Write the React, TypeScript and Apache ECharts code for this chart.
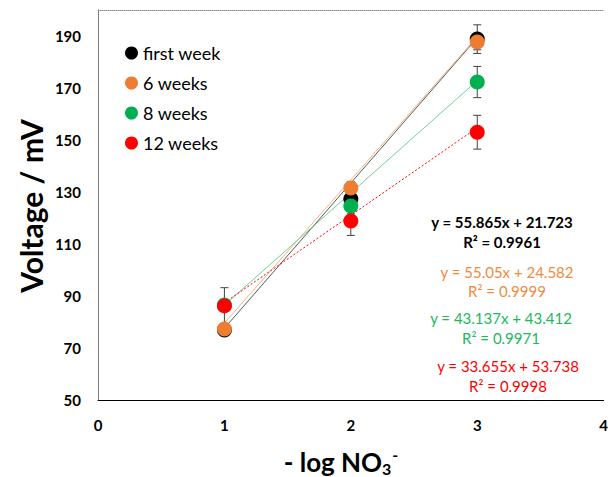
import React, { useEffect, useRef } from "react";
import * as echarts from "echarts";

const seriesNames = ["first week", "6 weeks", "8 weeks", "12 weeks"];
const colors = ["#000000", "#ED7D31", "#00B050", "#FF0000"];
const textColors = ["#000000", "#F08A40", "#20B85A", "#FF0000"];
const trendColors = ["#595959", "#F4B183", "#6FD09A", "#FF0000"];
const xValues = [1, 2, 3];
const firstWeek = [76.9, 127.3, 188.8];
const sixWeeks = [77.3, 131.5, 187.7];
const eightWeeks = [86.5, 124.6, 172.3];
const twelveWeeks = [86.2, 118.8, 153.0];
const errFirst = [2, 3, 5.5];
const errSix = [2, 2.5, 3];
const errEight = [2, 3, 6];
const errTwelve = [7, 5.5, 6.5];
const trendX = [1, 3];
const trendFirst = [77.6, 189.3];
const trendSix = [79.6, 189.7];
const trendEight = [86.5, 172.8];
const trendTwelve = [87.4, 154.7];
const equations = [
  "y = 55.865x + 21.723",
  "y = 55.05x + 24.582",
  "y = 43.137x + 43.412",
  "y = 33.655x + 53.738",
];
const r2Labels = ["R² = 0.9961", "R² = 0.9999", "R² = 0.9971", "R² = 0.9998"];
const yTicks = [50, 70, 90, 110, 130, 150, 170, 190];
const xTicks = [0, 1, 2, 3, 4];

const FONT = "Lato, 'Open Sans', sans-serif";

export default function App() {
  const ref = useRef<HTMLDivElement>(null);
  useEffect(() => {
    if (!ref.current) return;
    const chart = echarts.init(ref.current, null, { renderer: "svg" });
    const values = [firstWeek, sixWeeks, eightWeeks, twelveWeeks];
    const errs = [errFirst, errSix, errEight, errTwelve];
    const trends = [trendFirst, trendSix, trendEight, trendTwelve];

    const series: any[] = [];
    trends.forEach((t, i) => {
      series.push({
        name: "trend " + seriesNames[i],
        type: "line",
        data: trendX.map((x, j) => [x, t[j]]),
        symbol: "none",
        z: 1,
        lineStyle: {
          color: trendColors[i],
          width: 1,
          type: i === 3 ? [2, 2] : "solid",
        },
      });
    });
    errs.forEach((e, i) => {
      series.push({
        name: "err " + seriesNames[i],
        type: "custom",
        z: 2,
        data: xValues.map((x, j) => [x, values[i][j] - e[j], values[i][j] + e[j]]),
        renderItem: (params: any, api: any) => {
          const x = api.value(0);
          const lo = api.coord([x, api.value(1)]);
          const hi = api.coord([x, api.value(2)]);
          const w = 4;
          const st = { stroke: "#404040", lineWidth: 1 };
          return {
            type: "group",
            children: [
              { type: "line", shape: { x1: lo[0], y1: lo[1], x2: hi[0], y2: hi[1] }, style: st },
              { type: "line", shape: { x1: lo[0] - w, y1: lo[1], x2: lo[0] + w, y2: lo[1] }, style: st },
              { type: "line", shape: { x1: hi[0] - w, y1: hi[1], x2: hi[0] + w, y2: hi[1] }, style: st },
            ],
          };
        },
      });
    });
    values.forEach((v, i) => {
      series.push({
        name: seriesNames[i],
        type: "scatter",
        z: 3 + i,
        symbol: "circle",
        symbolSize: 15,
        itemStyle: { color: colors[i], opacity: 1 },
        data: xValues.map((x, j) => [x, v[j]]),
      });
    });

    const eqPos = [
      [502, 222, 242],
      [507, 272, 291],
      [501, 318, 338],
      [508, 366, 386],
    ];
    const graphics: any[] = [];
    eqPos.forEach((p, i) => {
      const bold = i === 0;
      [equations[i], r2Labels[i]].forEach((txt, k) => {
        graphics.push({
          type: "text",
          x: p[0],
          y: p[1 + k],
          style: {
            text: txt,
            fill: textColors[i],
            font: `${bold ? "bold " : ""}15px ${FONT}`,
            align: "center",
            verticalAlign: "middle",
          },
        });
      });
    });
    graphics.push({
      type: "text",
      x: 31,
      y: 206,
      rotation: Math.PI / 2,
      style: {
        text: "Voltage / mV",
        fill: "#000",
        font: `bold 30px ${FONT}`,
        align: "center",
        verticalAlign: "middle",
      },
    });
    graphics.push({
      type: "text",
      x: 341,
      y: 462,
      style: {
        text: "{a|- log NO}{sub|3}{sup|-}",
        align: "center",
        verticalAlign: "middle",
        rich: {
          a: { fontSize: 26, fontWeight: "bold", fontFamily: FONT, fill: "#000", lineHeight: 32 },
          sub: { fontSize: 16, fontWeight: "bold", fontFamily: FONT, fill: "#000", padding: [13, 0, 0, 0], lineHeight: 32 },
          sup: { fontSize: 16, fontWeight: "bold", fontFamily: FONT, fill: "#000", padding: [0, 0, 15, 1], lineHeight: 32 },
        },
      },
    });

    chart.setOption({
      animation: false,
      backgroundColor: "#fff",
      grid: { left: 98, right: 3, top: 10, bottom: 77 },
      legend: {
        data: seriesNames,
        orient: "vertical",
        left: 120,
        top: 39,
        itemWidth: 13,
        itemHeight: 13,
        itemGap: 12,
        icon: "circle",
        textStyle: { fontSize: 18, fontFamily: FONT, color: "#000" },
      },
      xAxis: [
        {
          type: "value",
          min: xTicks[0],
          max: xTicks[xTicks.length - 1],
          interval: 1,
          splitLine: { show: false },
          axisTick: { show: false },
          axisLine: { lineStyle: { color: "#000", width: 1 } },
          axisLabel: {
            margin: 17,
            fontSize: 15,
            fontWeight: "bold",
            fontFamily: FONT,
            color: "#000",
            showMinLabel: true,
            showMaxLabel: true,
          },
        },
        {
          type: "value",
          position: "top",
          min: 0,
          max: 4,
          axisLabel: { show: false },
          axisTick: { show: false },
          splitLine: { show: false },
          axisLine: { show: true, lineStyle: { color: "#888", width: 1, type: [1, 1] } },
        },
      ],
      yAxis: [
        {
          type: "value",
          min: yTicks[0],
          max: 200,
          interval: 20,
          splitLine: { show: false },
          axisTick: { show: false },
          axisLine: { show: true, lineStyle: { color: "#404040", width: 1 } },
          axisLabel: {
            margin: 17,
            fontSize: 15,
            fontWeight: "bold",
            fontFamily: FONT,
            color: "#000",
            showMaxLabel: false,
          },
        },
        {
          type: "value",
          position: "right",
          min: 50,
          max: 200,
          axisLabel: { show: false },
          axisTick: { show: false },
          splitLine: { show: false },
          axisLine: { show: true, lineStyle: { color: "#888", width: 1, type: [1, 1] } },
        },
      ],
      series,
      graphic: graphics,
    });
    return () => chart.dispose();
  }, []);
  return <div ref={ref} style={{ width: 611, height: 477, position: "absolute", left: 0, top: 0 }} />;
}
